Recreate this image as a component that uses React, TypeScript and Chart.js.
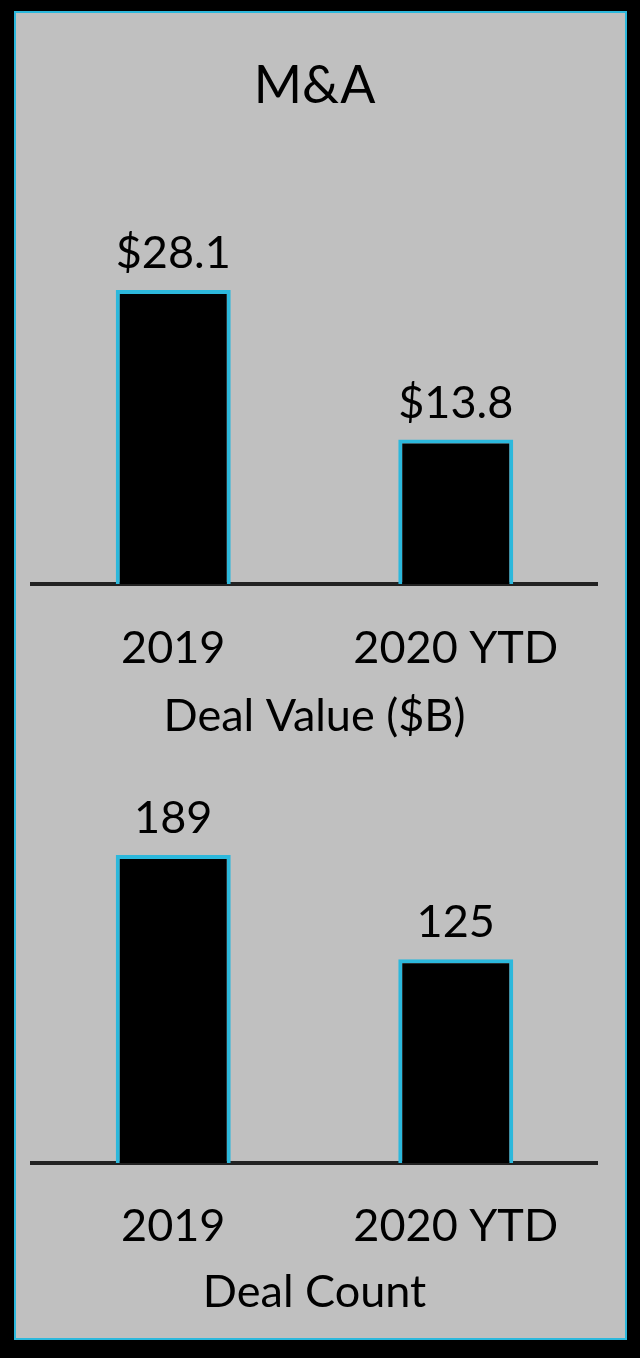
import React, { useEffect, useRef } from "react";
import { Chart, registerables } from "chart.js";

Chart.register(...registerables);

const categories = ["2019", "2020 YTD"];
const dealValues = [28.1, 13.8];
const dealValueLabels = ["$28.1", "$13.8"];
const dealCounts = [189, 125];
const dealCountLabels = ["189", "125"];

const FONT = "Lato, 'Open Sans', sans-serif";
const CYAN = "#2cb8dc";
const GRAY = "#c0c0c0";
const FS = 45;

const valueLabelPlugin = {
  id: "valueLabels",
  afterDatasetsDraw(chart: any, _args: any, opts: any) {
    const ctx = chart.ctx;
    const meta = chart.getDatasetMeta(0);
    ctx.save();
    ctx.font = `${FS}px ${FONT}`;
    ctx.fillStyle = "#000";
    ctx.textAlign = "center";
    ctx.textBaseline = "alphabetic";
    meta.data.forEach((bar: any, i: number) => {
      ctx.fillText(opts.labels[i], bar.x, bar.y - 22);
    });
    ctx.restore();
  },
};

type PanelProps = {
  top: number;
  height: number;
  values: number[];
  labels: string[];
  max: number;
  axisTitle: string;
  title?: string;
  padTop: number;
  padBottom: number;
  tickPad: number;
  titlePadTop: number;
  titlePadBottom: number;
};

function BarPanel(p: PanelProps) {
  const ref = useRef<HTMLCanvasElement>(null);
  useEffect(() => {
    if (!ref.current) return;
    const chart = new Chart(ref.current, {
      type: "bar",
      data: {
        labels: categories,
        datasets: [
          {
            data: p.values,
            backgroundColor: "#000",
            borderColor: CYAN,
            borderWidth: 4,
            borderSkipped: "bottom",
            categoryPercentage: 1,
            barPercentage: 0.407,
          },
        ],
      },
      plugins: [valueLabelPlugin],
      options: {
        animation: false,
        responsive: false,
        devicePixelRatio: 1,
        layout: { padding: { left: 32, right: 43, top: p.padTop, bottom: p.padBottom } },
        plugins: {
          legend: { display: false },
          tooltip: { enabled: false },
          title: p.title
            ? {
                display: true,
                text: p.title,
                color: "#000",
                font: { family: FONT, size: 52, weight: "normal" },
                padding: { top: 55, bottom: 94 },
              }
            : { display: false },
          valueLabels: { labels: p.labels },
        } as any,
        scales: {
          x: {
            z: 1,
            grid: { display: false, drawTicks: false },
            border: { display: true, color: "#222", width: 4 },
            ticks: {
              color: "#000",
              font: { family: FONT, size: FS },
              padding: p.tickPad,
            },
            title: {
              display: true,
              text: p.axisTitle,
              color: "#000",
              font: { family: FONT, size: FS },
              padding: { top: p.titlePadTop, bottom: p.titlePadBottom },
            },
          },
          y: {
            display: false,
            min: 0,
            max: p.max,
          },
        },
      },
    });
    return () => chart.destroy();
  }, []);
  return (
    <canvas
      ref={ref}
      width={640}
      height={p.height}
      style={{ position: "absolute", left: 0, top: p.top, width: 640, height: p.height }}
    />
  );
}

export default function App() {
  useEffect(() => {
    document.body.style.margin = "0";
    document.body.style.background = "#000";
  }, []);
  return (
    <div style={{ position: "relative", width: 640, height: 1358, background: "#000", overflow: "hidden" }}>
      <div
        style={{
          position: "absolute",
          left: 14,
          top: 11,
          width: 609,
          height: 1325,
          background: GRAY,
          border: `2px solid ${CYAN}`,
        }}
      />
      <BarPanel
        top={0}
        height={760}
        values={dealValues}
        labels={dealValueLabels}
        max={35.6}
        axisTitle="Deal Value ($B)"
        title="M&A"
        padTop={0}
        padBottom={0}
        tickPad={37}
        titlePadTop={-23}
        titlePadBottom={17}
      />
      <BarPanel
        top={760}
        height={598}
        values={dealCounts}
        labels={dealCountLabels}
        max={240}
        axisTitle="Deal Count"
        padTop={12}
        padBottom={0}
        tickPad={36}
        titlePadTop={-24}
        titlePadBottom={39}
      />
    </div>
  );
}
